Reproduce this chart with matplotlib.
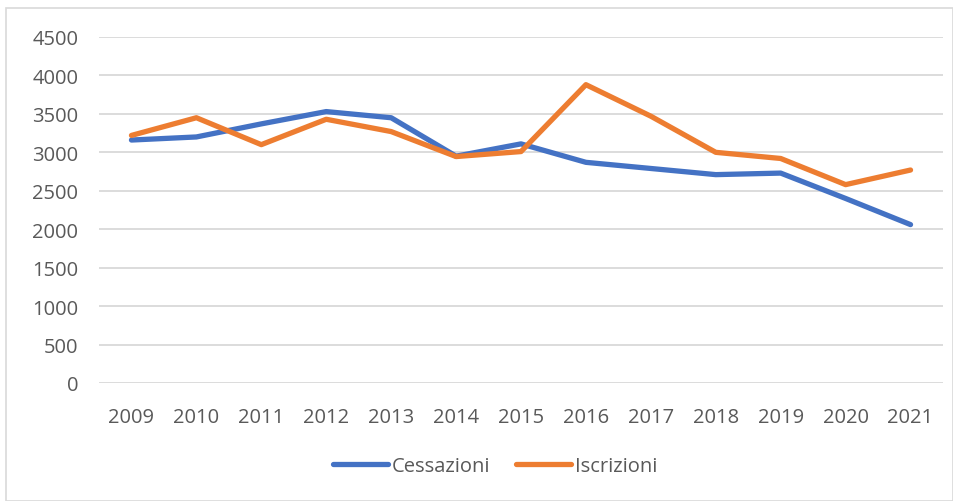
import matplotlib
matplotlib.use("Agg")
import matplotlib.pyplot as plt
from matplotlib.patches import Rectangle

years = ["2009", "2010", "2011", "2012", "2013", "2014", "2015",
         "2016", "2017", "2018", "2019", "2020", "2021"]
cessazioni = [3160, 3200, 3370, 3530, 3450, 2950, 3110, 2870, 2790, 2710, 2730, 2400, 2060]
iscrizioni = [3220, 3450, 3100, 3430, 3270, 2945, 3010, 3880, 3470, 3000, 2920, 2580, 2770]
yticks = [0, 500, 1000, 1500, 2000, 2500, 3000, 3500, 4000, 4500]

plt.rcParams['font.family'] = ['Open Sans', 'DejaVu Sans']
txt = '#595959'

fig = plt.figure(figsize=(9.54, 5.02), dpi=100)
fig.patches.append(Rectangle((6/954, 0.0), 1 - 6/954 - 0.001, 1 - 9/502,
                             transform=fig.transFigure, fill=False,
                             edgecolor='#D9D9D9', linewidth=1.2))
ax = fig.add_axes([99/954, 1 - 384/502, (943 - 99)/954, (384 - 38)/502])

x = list(range(len(years)))
ax.plot(x, cessazioni, color='#4472C4', linewidth=3.8, label='Cessazioni',
        solid_joinstyle='round', solid_capstyle='round')
ax.plot(x, iscrizioni, color='#ED7D31', linewidth=3.8, label='Iscrizioni',
        solid_joinstyle='round', solid_capstyle='round')

ax.set_xlim(-0.5, len(years) - 0.5)
ax.set_ylim(0, 4500)
ax.set_yticks(yticks)
ax.set_yticklabels([str(v) for v in yticks])
ax.set_xticks(x)
ax.set_xticklabels(years)
ax.grid(axis='y', color='#D9D9D9', linewidth=1.3)
ax.set_axisbelow(True)
for s in ax.spines.values():
    s.set_visible(False)
ax.tick_params(axis='both', length=0, labelsize=14.5, colors=txt)
ax.tick_params(axis='y', pad=15)
ax.tick_params(axis='x', pad=17)

fig.legend(loc='center', bbox_to_anchor=(0.519, 0.07), ncol=2, frameon=False,
           fontsize=14.5, labelcolor=txt, handlelength=2.7, handletextpad=0.2,
           columnspacing=1.3)

fig.savefig('out.png', dpi=100)
